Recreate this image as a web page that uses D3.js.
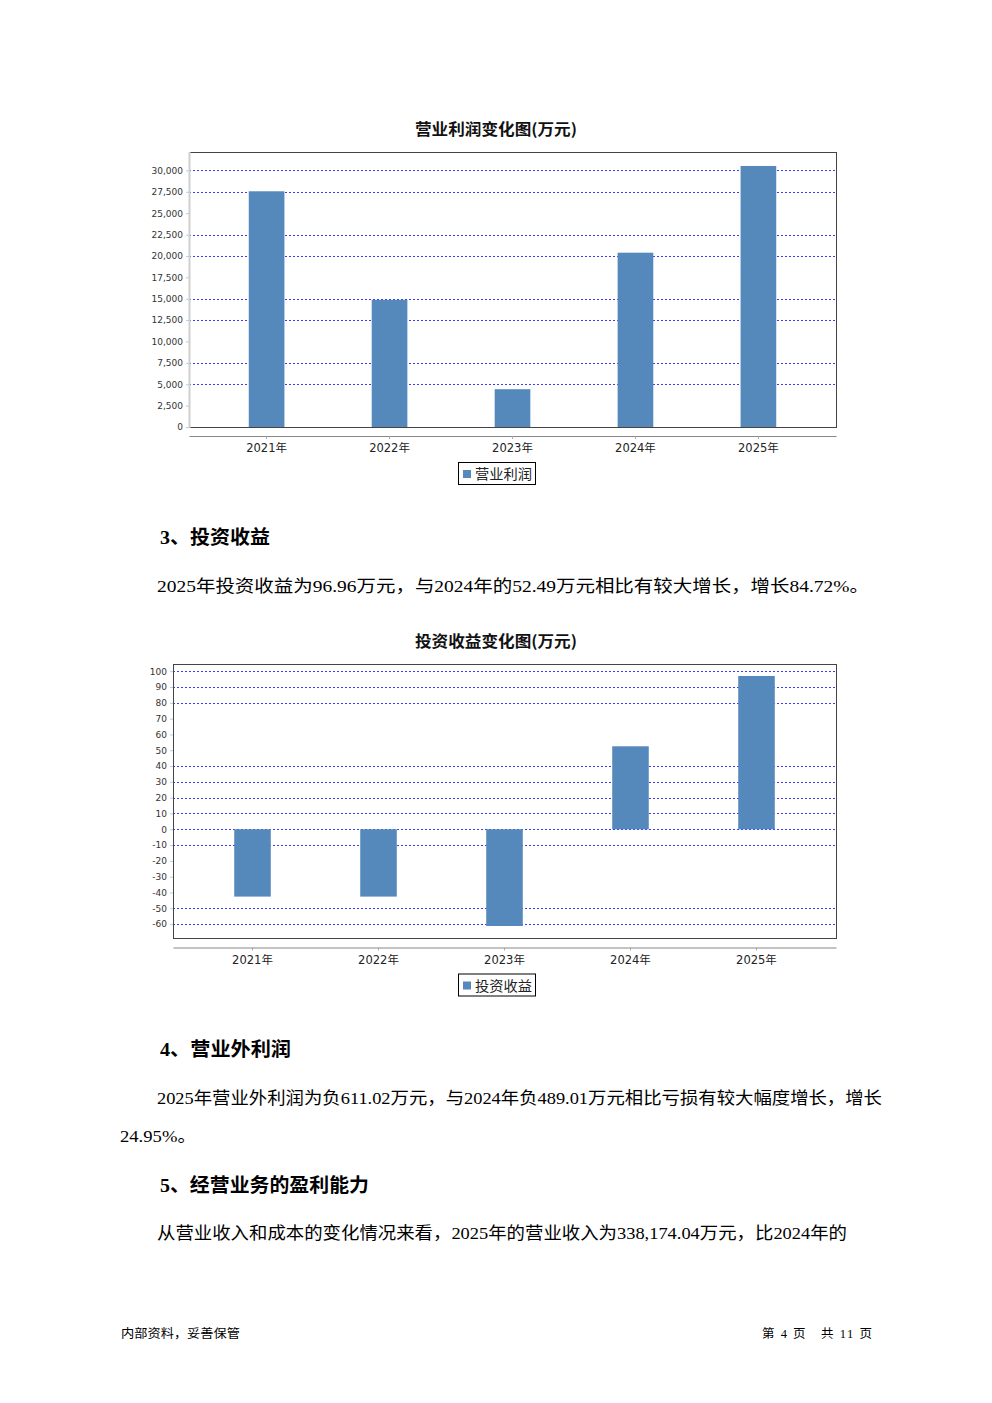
<!DOCTYPE html>
<html>
<head>
<meta charset="utf-8">
<script src="https://cdn.jsdelivr.net/npm/d3@7/dist/d3.min.js"></script>
<style>
  html, body { margin: 0; padding: 0; background: #fff; }
  svg { display: block; }
</style>
</head>
<body>
<svg id="page" width="992" height="1403"></svg>
<script>
// ---------- data ----------
const years = ["2021年", "2022年", "2023年", "2024年", "2025年"];

const opProfitTitle = "营业利润变化图(万元)";
const opProfitName = "营业利润";
const opProfit = [27560, 14860, 4420, 20380, 30520];
const opProfitTicks = [0, 2500, 5000, 7500, 10000, 12500, 15000, 17500, 20000, 22500, 25000, 27500, 30000];
const opProfitGrid = [5000, 7500, 12500, 15000, 20000, 22500, 27500, 30000];

const invTitle = "投资收益变化图(万元)";
const invName = "投资收益";
const invIncome = [-42.6, -42.6, -61.2, 52.49, 96.96];
const invTicks = [-60, -50, -40, -30, -20, -10, 0, 10, 20, 30, 40, 50, 60, 70, 80, 90, 100];
const invGrid = [-60, -50, -10, 0, 10, 20, 30, 40, 80, 90, 100];

// ---------- helpers ----------
const svg = d3.select("#page");
const BAR = "#5588bb";
const CJK = "'Liberation Serif','Noto Sans CJK SC',serif";
const AXF = "'DejaVu Sans','Noto Sans CJK SC',sans-serif";
const fmt = d3.format(",");

function drawChart(cfg) {
  const g = svg.append("g");
  const { left, right, top, bottom, axisY } = cfg;

  // title
  g.append("text")
    .attr("x", 496).attr("y", cfg.titleY)
    .attr("text-anchor", "middle")
    .attr("font-family", "'Noto Sans CJK SC',sans-serif")
    .attr("font-weight", "bold").attr("font-size", 15.5)
    .attr("textLength", 162).attr("lengthAdjust", "spacingAndGlyphs")
    .attr("fill", "#111")
    .text(cfg.title);

  const x = d3.scaleBand().domain(years).range([left, right])
    .paddingInner(0).paddingOuter(0.131);
  const y = d3.scaleLinear().domain(cfg.domain).range([bottom, top]);

  // gridlines
  g.append("g").selectAll("line").data(cfg.grid).join("line")
    .attr("x1", left).attr("x2", right)
    .attr("y1", d => Math.round(y(d)) + 0.5).attr("y2", d => Math.round(y(d)) + 0.5)
    .attr("stroke", "#3a3aff").attr("stroke-width", 1)
    .attr("stroke-dasharray", "2,2");

  // bars
  const bw = x.bandwidth() * 0.29;
  g.append("g").selectAll("rect").data(cfg.values).join("rect")
    .attr("x", (d, i) => x(years[i]) + x.bandwidth() / 2 - bw / 2)
    .attr("width", bw)
    .attr("y", d => y(Math.max(0, d)))
    .attr("height", d => Math.abs(y(d) - y(0)))
    .attr("fill", BAR);

  // plot frame
  g.append("rect")
    .attr("x", left + 0.5).attr("y", top + 0.5)
    .attr("width", right - left).attr("height", bottom - top)
    .attr("fill", "none").attr("stroke", "#444").attr("stroke-width", 1);
  if (cfg.lightLeft) {
    g.append("line").attr("x1", left + 0.5).attr("x2", left + 0.5)
      .attr("y1", top).attr("y2", bottom + 1)
      .attr("stroke", "#cfcfcf").attr("stroke-width", 2);
  }

  // y axis
  const ya = d3.axisLeft(y).tickValues(cfg.ticks).tickSize(3).tickPadding(3)
    .tickFormat(d => fmt(d).replace("\u2212", "-"));
  const yg = g.append("g").attr("transform", `translate(${left},0)`).call(ya);
  yg.select(".domain").remove();
  yg.selectAll(".tick line").attr("stroke", "#c8c8c8");
  yg.selectAll(".tick text").attr("font-family", AXF).attr("font-size", 9)
    .attr("fill", "#333");

  // x axis (offset)
  const xa = d3.axisBottom(x).tickSize(3).tickPadding(5).tickSizeOuter(0);
  const xg = g.append("g").attr("transform", `translate(0,${axisY})`).call(xa);
  xg.select(".domain").attr("stroke", "#888").attr("stroke-width", 1.2);
  xg.selectAll(".tick line").attr("stroke", "#aaa");
  xg.selectAll(".tick text").attr("font-family", AXF).attr("font-size", 11.5)
    .attr("fill", "#222");

  // legend
  const lx = 458, ly = axisY + 26;
  const lg = g.append("g");
  lg.append("rect").attr("x", lx + 0.5).attr("y", ly + 0.5)
    .attr("width", 77).attr("height", 22)
    .attr("fill", "#fff").attr("stroke", "#000").attr("stroke-width", 1);
  lg.append("rect").attr("x", lx + 5).attr("y", ly + 8)
    .attr("width", 8).attr("height", 8).attr("fill", BAR);
  lg.append("text").attr("x", lx + 17).attr("y", ly + 17)
    .attr("font-family", "'Noto Sans CJK SC',sans-serif").attr("font-size", 14)
    .attr("fill", "#222").attr("textLength", 57).attr("lengthAdjust", "spacingAndGlyphs")
    .text(cfg.name);
}

drawChart({
  title: opProfitTitle, name: opProfitName, titleY: 135,
  values: opProfit, ticks: opProfitTicks, grid: opProfitGrid,
  domain: [0, d3.max(opProfit) * 1.0535],
  left: 189, right: 836, top: 152, bottom: 427, axisY: 436, lightLeft: true
});

const invRange = d3.max(invIncome) - d3.min(invIncome);
drawChart({
  title: invTitle, name: invName, titleY: 647,
  values: invIncome, ticks: invTicks, grid: invGrid,
  domain: [d3.min(invIncome) - invRange * 0.048, d3.max(invIncome) + invRange * 0.048],
  left: 173, right: 836, top: 664, bottom: 938, axisY: 947.5, lightLeft: false
});

// ---------- body text ----------
const lines = [
  { t: "3、投资收益", x: 160, y: 544, s: 19.5, b: true, w: 110 },
  { t: "2025年投资收益为96.96万元，与2024年的52.49万元相比有较大增长，增长84.72%。", x: 157, y: 592, s: 17.5, w: 712 },
  { t: "4、营业外利润", x: 160, y: 1056, s: 19.5, b: true, w: 131 },
  { t: "2025年营业外利润为负611.02万元，与2024年负489.01万元相比亏损有较大幅度增长，增长", x: 157, y: 1104, s: 17.5, w: 725 },
  { t: "24.95%。", x: 120, y: 1142, s: 17.5, w: 76 },
  { t: "5、经营业务的盈利能力", x: 160, y: 1192, s: 19.5, b: true, w: 209 },
  { t: "从营业收入和成本的变化情况来看，2025年的营业收入为338,174.04万元，比2024年的", x: 157, y: 1239, s: 17.5, w: 690 }
];
svg.append("g").selectAll("text").data(lines).join("text")
  .attr("x", d => d.x).attr("y", d => d.y)
  .attr("font-family", CJK)
  .attr("font-weight", d => d.b ? "bold" : "normal")
  .attr("font-size", d => d.s)
  .attr("textLength", d => d.w).attr("lengthAdjust", "spacingAndGlyphs")
  .attr("fill", "#000")
  .text(d => d.t);

// footer
svg.append("text").attr("x", 121).attr("y", 1338)
  .attr("font-family", CJK).attr("font-size", 12.5).attr("fill", "#000")
  .attr("textLength", 119).attr("lengthAdjust", "spacingAndGlyphs")
  .text("内部资料，妥善保管");
svg.append("text").attr("x", 762).attr("y", 1338)
  .attr("font-family", CJK).attr("font-size", 12.5).attr("fill", "#000")
  .attr("textLength", 110).attr("lengthAdjust", "spacing")
  .attr("xml:space", "preserve")
  .text("第 4 页   共 11 页");
</script>
</body>
</html>
